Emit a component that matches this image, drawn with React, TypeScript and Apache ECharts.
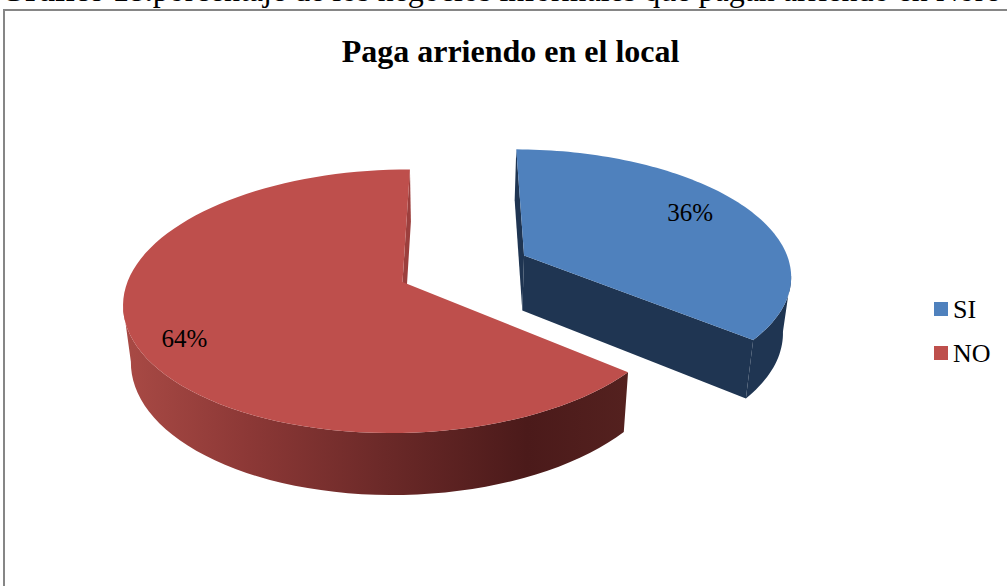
import React, { useEffect, useRef } from "react";
import * as echarts from "echarts";

const categories = ["SI", "NO"];
const values = [36, 64];
const sliceColors = ["#4F81BD", "#BE4F4C"];
const pageHeading = ["Gráfico 18.", "porcentaje de los negocios informales que pagan arriendo en Nore"];
const chartTitle = "Paga arriendo en el local";

// perspective camera of the 3D pie (unit-circle world -> screen)
const cam = { x0: 402.5, y0: 282, ax: 275.7, bx: 67.3, by: -87.8, k: 0.146, m: 0.005 };
const explodeBySlice = [0.5, 0];
const labelRadius = [0.775, 0.84];
const labelTurn = (-4 * Math.PI) / 180;

function project(X: number, Y: number) {
  const w = 1 + cam.k * Y + cam.m * X;
  return [
    (cam.x0 + cam.ax * X + cam.bx * Y) / w,
    (cam.y0 * (1 + cam.m * X) + cam.by * Y) / w,
  ];
}
// lower rim of the pie: same point pushed down, converging slightly
function drop(p: number[]) {
  return [p[0] - 0.024 * (p[0] - 450), p[1] + 51 + (p[1] - 149) * 0.0387];
}

function sliceGeometry(index: number) {
  const total = values.reduce((a, b) => a + b, 0);
  let start = 0;
  for (let i = 0; i < index; i++) start += (values[i] / total) * Math.PI * 2;
  const end = start + (values[index] / total) * Math.PI * 2;
  const mid = (start + end) / 2;
  const cx = explodeBySlice[index] * Math.sin(mid);
  const cy = explodeBySlice[index] * Math.cos(mid);
  const at = (t: number, r = 1) => project(cx + r * Math.sin(t), cy + r * Math.cos(t));
  const arc: number[][] = [];
  const steps = 90;
  for (let s = 0; s <= steps; s++) arc.push(at(start + ((end - start) * s) / steps));
  return { apex: project(cx, cy), arc, label: at(mid + labelTurn, labelRadius[index]) };
}

const redSide = {
  type: "linear", x: 0, y: 0, x2: 1, y2: 0,
  colorStops: [
    { offset: 0, color: "#A94A45" },
    { offset: 0.25, color: "#8C3836" },
    { offset: 0.52, color: "#6B2928" },
    { offset: 0.8, color: "#4B1A1A" },
    { offset: 1, color: "#54211F" },
  ],
};

function renderSlice(index: number) {
  return () => {
    const g = sliceGeometry(index);
    const top = g.arc;
    const bottom = top.map(drop);
    const apexB = drop(g.apex);
    const isBlue = index === 0;
    // the visible wall runs from the silhouette point of the arc to the near corner
    let edge = 0;
    top.forEach((p, i) => {
      if (isBlue ? p[0] > top[edge][0] : p[0] < top[edge][0]) edge = i;
    });
    const wallTop = isBlue ? top.slice(edge) : top.slice(0, edge + 1);
    const wallBottom = isBlue ? bottom.slice(edge) : bottom.slice(0, edge + 1);
    const outer = wallTop.concat(wallBottom.slice().reverse());
    const first = [top[0], bottom[0], apexB, g.apex];
    const last = [top[top.length - 1], bottom[bottom.length - 1], apexB, g.apex];
    const sideFill: any = isBlue ? "#1F3552" : redSide;
    const faceFill = isBlue ? "#1F3552" : "#9C3F3D";
    const poly = (points: number[][], fill: any) => ({
      type: "polygon",
      shape: { points },
      style: { fill, stroke: "none" },
    });
    return {
      type: "group",
      children: [
        poly(outer, sideFill),
        // only the cut faces turned towards the viewer are drawn
        isBlue ? poly(first, faceFill) : poly(last, faceFill),
        isBlue ? poly(last, faceFill) : null,
        poly([g.apex].concat(top), sliceColors[index]),
        {
          type: "text",
          x: g.label[0],
          y: g.label[1],
          style: {
            text: values[index] + "%",
            fill: "#000",
            font: '25px "Liberation Serif"',
            align: "center",
            verticalAlign: "middle",
          },
        },
      ].filter(Boolean),
    } as any;
  };
}

export default function App() {
  const ref = useRef<HTMLDivElement>(null);
  useEffect(() => {
    const chart = echarts.init(ref.current!, null, { renderer: "svg" });
    chart.setOption({
      animation: false,
      backgroundColor: "#fff",
      title: {
        text: chartTitle,
        left: 505.5,
        top: 30,
        textAlign: "center",
        textStyle: { fontFamily: "Liberation Serif", fontWeight: "bold", fontSize: 32, color: "#000" },
      },
      legend: {
        orient: "vertical",
        left: 929,
        top: 291,
        icon: "rect",
        itemWidth: 14,
        itemHeight: 14,
        itemGap: 18,
        itemStyle: { borderWidth: 0 },
        textStyle: { fontFamily: "Liberation Serif", fontSize: 26, color: "#000" },
        data: categories,
      },
      graphic: [
        {
          type: "rect",
          shape: { x: 4, y: 10, width: 1100, height: 700 },
          style: { fill: "none", stroke: "#868686", lineWidth: 2 },
        },
        {
          type: "text",
          x: 0,
          y: -26,
          style: {
            text: `{b|${pageHeading[0]}}{r|${pageHeading[1]}}`,
            rich: {
              b: { font: 'bold 32px "Liberation Serif"', fill: "#000" },
              r: { font: '32px "Liberation Serif"', fill: "#000" },
            },
            font: '32px "Liberation Serif"',
            fill: "#000",
          },
        },
      ],
      series: categories.map((name, i) => ({
        type: "custom",
        name,
        coordinateSystem: "none",
        silent: true,
        itemStyle: { color: sliceColors[i] },
        data: [values[i]],
        renderItem: renderSlice(i),
      })),
    });
    return () => chart.dispose();
  }, []);
  return (
    <div
      ref={ref}
      style={{ position: "fixed", left: 0, top: 0, width: 1007, height: 586, overflow: "hidden" }}
    />
  );
}
